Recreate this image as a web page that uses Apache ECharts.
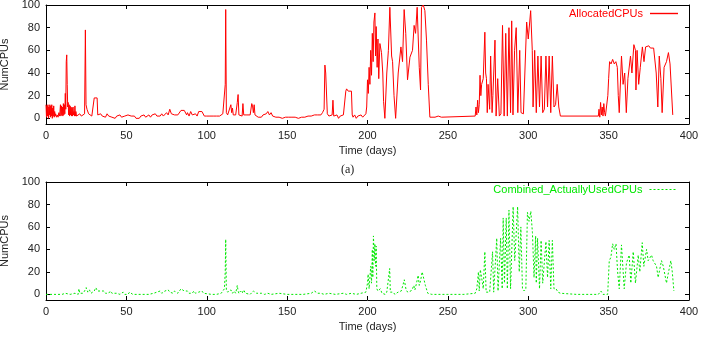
<!DOCTYPE html>
<html>
<head>
<meta charset="utf-8">
<script src="https://cdn.jsdelivr.net/npm/echarts@6/dist/echarts.min.js"></script>
<style>
  html, body { margin: 0; padding: 0; background: #fff; }
  #chart { width: 702px; height: 337px; }
</style>
</head>
<body>
<div id="chart"></div>
<script>
// tick labels
const xTicks = [0, 50, 100, 150, 200, 250, 300, 350, 400]
const yTicks = [0, 20, 40, 60, 80, 100]

// (a) AllocatedCPUs, [day, cpus]
const allocated = [
  [0,12],[0.3,1],[0.6,11],[0.9,2],[1.2,12],[1.5,0],[1.8,10],[2.1,3],[2.4,12],[2.7,1],[3,11],[3.3,2],[3.6,12],[3.9,0],
  [4.2,9],[4.5,2],[4.8,11],[5.1,1],[5.4,6],[5.7,2],[6,4],[6.5,1],[7,3],[7.5,1],[8,5],[8.5,2],[9,12],[9.3,2],[9.6,11],
  [9.9,3],[10.2,10],[10.5,2],[10.8,13],[11.1,3],[11.4,12],[11.7,4],[12,22],[12.3,8],[12.6,50],[12.9,56],[13.2,30],
  [13.5,10],[13.8,14],[14.1,3],[14.4,12],[14.7,2],[15,11],[15.3,3],[15.6,10],[15.9,2],[16.2,9],[16.5,2],[16.8,10],
  [17.1,3],[17.4,6],[17.7,2],[18,11],[18.3,2],[18.6,6],[19,2],[19.5,3],[20,2],[21,4],[22,2],[23,3],[24,4],[24.5,78],
  [24.9,12],[25.5,8],[26.5,4],[27.5,3],[28.5,2],[29.5,3],[30,18],[31,19],[31.8,18],[32.2,3],[33,2],[34,4],[35,2],
  [36,3],[37,1],[38,4],[39,2],[40,3],[41,1],[42,2],[43,0],[44,2],[45,1],[46,3],[47,1],[48,0],[49,2],[50,1],[51,3],
  [52,4],[53,2],[54,1],[55,2],[56,0],[57,1],[58,0],[59,2],[60,1],[61,3],[62,1],[63,2],[64,3],[65,1],[66,3],[67,2],
  [68,4],[69,2],[70,3],[71,2],[72,4],[73,2],[74,3],[75,5],[76,3],[77,8],[78,4],[79,5],[80,3],[81,4],[82,3],[83,4],
  [84,7],[85,8],[86,7],[87,8],[87.5,3],[88,5],[89,2],[90,6],[91,3],[92,2],[93,4],[94,2],[95,6],[96,7],[97,6],[98,6],
  [98.5,2],[99,3],[100,2],[101,3],[102,2],[103,3],[104,2],[105,3],[106,2],[107,3],[108,2],[109,3],[110,4],[111,3],
  [111.5,30],[111.8,96],[112.2,5],[113,3],[114,4],[115,12],[115.5,5],[116,9],[116.5,3],[117,4],[118,3],[119,14],
  [119.5,21],[120,3],[121,4],[122,2],[122.5,13],[123,3],[124,2],[125,3],[126,2],[127,3],[128,13],[128.5,11],[129,5],
  [129.5,12],[130,3],[131,2],[132,1],[133,2],[134,1],[135,3],[136,2],[137,4],[138,6],[139,3],[140,5],[141,2],[142,3],
  [143,1],[144,2],[145,1],[146,1],[147,0],[148,1],[149,1],[150,0],[151,1],[152,0],[153,1],[154,0],[155,1],[156,1],
  [157,0],[158,1],[159,1],[160,0],[161,1],[162,1],[163,2],[164,1],[165,2],[166,1],[167,3],[168,2],[169,3],[170,4],
  [171,3],[172,5],[173,8],[173.5,47],[174,40],[174.5,40],[175,4],[176,2],[177,1],[178,3],[178.5,16],[179,2],[180,1],
  [181,3],[182,0],[183,2],[184,1],[185,3],[186,2],[186.5,24],[187,26],[188,24],[189,25],[190,24],[190.5,3],[191,1],
  [192,3],[193,0],[194,2],[195,1],[196,3],[197,1],[198,2],[199,4],[199.5,10],[200,34],[200.5,22],[201,45],[201.5,30],
  [202,60],[202.5,38],[203,75],[203.5,50],[204,85],[204.6,93],[205,55],[205.4,81],[206,45],[206.5,70],[207,35],
  [207.7,66],[208.7,58],[209.5,40],[210,15],[210.8,0],[212,40],[213,60],[213.9,98],[215,55],[215.6,50],[216.5,20],
  [217.5,0],[219.1,40],[220.8,63],[221.8,50],[222.8,96],[223.8,75],[224.9,34],[226.4,54],[228,60],[229,82],
  [229.9,75],[230.9,98],[232.2,45],[233,25],[233.6,98],[234.7,100],[235.7,95],[236.7,69],[237.8,30],[238.8,1],
  [240,1],[242,1],[244,2],[246,1],[267,2],[267.5,10],[268,3],[268.5,16],[269,5],[269.5,12],[270,38],[270.5,20],
  [271,30],[272,35],[273,76],[273.5,40],[274,35],[274.5,5],[275,30],[276,8],[276.6,55],[277.5,5],[278,20],[279.3,69],
  [280,2],[281,35],[282,2],[283,4],[284,82],[285,2],[286,75],[287,2],[288,80],[289,5],[289.7,86],[290.5,3],
  [291.5,60],[292.5,80],[293.5,5],[294.7,60],[295.5,5],[297,4],[298,5],[299,85],[300,70],[301.5,95],[302.5,60],
  [303,10],[304,60],[305,5],[306,55],[307,10],[308,55],[309,5],[310,8],[311,55],[312,10],[313,55],[314,5],[315,55],
  [316,10],[317,12],[318,30],[319,10],[320,2],[343.6,2],[344,8],[344.5,1],[345,14],[345.5,3],[346,10],[346.5,2],
  [347,13],[347.5,5],[348,2],[349,1],[349.5,20],[350,35],[350.6,50],[351.5,48],[352.5,52],[353.5,48],[354.5,50],
  [355.4,45],[356,20],[356.6,5],[358,55],[359,30],[360,40],[361,5],[362,35],[363.6,55],[364.5,40],[365.7,65],
  [366.7,60],[367,25],[367.7,60],[368.7,30],[369.7,45],[371,63],[372,50],[373,63],[374,62],[375,64],[376,62],
  [377,63],[378,62],[379,63],[379.6,40],[380.6,10],[381.5,55],[382.5,35],[383.3,5],[384.5,45],[386,50],[387.2,58],
  [388.2,48],[389.9,3]
]

// (b) Combined_ActuallyUsedCPUs
const used = [
  [0,0],[5,0],[10,0],[12,1],[15,0],[18,1],[20,0],[20.5,5],[21,1],[22,2],[23,1],[24,3],[25,6],[26,2],[27,4],[28,1],
  [29,2],[30,3],[31,6],[32,3],[33,2],[34,3],[35,2],[36,3],[37,1],[38,2],[39,1],[40,3],[41,1],[42,0],[44,1],[46,0],
  [48,2],[49,0],[50,1],[51,0],[52,2],[53,1],[54,0],[56,0],[60,0],[64,0],[67,1],[68,0],[69,2],[70,1],[71,3],[72,1],
  [73,2],[74,3],[75,2],[76,4],[77,2],[78,3],[79,1],[80,3],[81,2],[82,1],[83,2],[84,5],[85,5],[86,3],[87,2],[88,3],
  [89,1],[90,2],[91,1],[92,3],[93,1],[94,2],[95,2],[96,3],[97,3],[98,1],[99,0],[103,0],[106,0],[109,1],[110,3],
  [111,5],[111.5,20],[111.8,49],[112.2,4],[113,2],[114,1],[115,4],[116,1],[117,3],[118,1],[119,8],[119.5,3],[120,1],
  [121,3],[122,1],[123,4],[124,1],[125,0],[127,0],[128,1],[129,3],[130,2],[131,1],[132,0],[134,1],[136,0],[138,1],
  [140,0],[145,1],[150,0],[155,0],[160,0],[165,1],[167,3],[168,3],[169,1],[170,2],[171,1],[172,2],[173,0],[176,1],
  [180,0],[185,1],[186,2],[187,0],[190,1],[193,0],[196,1],[199,2],[200,10],[200.4,18],[201,5],[202,25],[202.5,10],
  [203,40],[203.3,15],[203.7,52],[204.2,30],[204.6,45],[205,25],[205.4,43],[205.8,5],[206.5,3],[207,2],[208,5],
  [209,1],[210,2],[211,0],[212,2],[213,1],[213.8,23],[214.2,2],[215,1],[216,2],[217,0],[218,1],[219,2],[220,1],
  [221,3],[222,8],[222.9,13],[224,4],[225,2],[226,1],[227,3],[228,5],[228.8,8],[229.5,4],[230.5,10],[231.5,17],
  [232.2,8],[233,12],[234,20],[235,19],[236,8],[237.5,1],[240,0],[250,0],[260,0],[267,1],[268,5],[269,20],[269.5,3],
  [270.2,22],[271,15],[272,5],[273,38],[273.8,2],[275,3],[276,2],[277.8,38],[278.5,2],[279.5,3],[280.4,50],
  [281.2,3],[282.8,50],[283.8,5],[284.4,68],[285.2,10],[286.3,68],[287,5],[288,75],[289,5],[290.6,78],[291.6,30],
  [293.4,78],[294.4,20],[295.4,60],[296.4,5],[297.5,3],[298.5,5],[299.5,73],[300.5,65],[301.6,74],[302.6,55],
  [303.6,15],[304.6,52],[305,10],[305.8,50],[307,5],[308,48],[309,10],[311,47],[312,15],[313,48],[314,5],[315,48],
  [316,5],[317.3,5],[318.5,2],[320,1],[330,0],[343.6,0],[345.2,3],[346.5,0],[349.4,0],[350.4,30],[351.4,33],
  [352.5,45],[353.5,40],[354.6,45],[355.6,20],[356.6,5],[358,44],[359.7,5],[361.1,28],[362.8,35],[363.8,10],
  [365.3,38],[366.7,10],[368.4,35],[369.4,20],[370.9,46],[371.9,25],[373.6,40],[374.6,30],[376.7,35],[377.7,30],
  [379.8,25],[380.8,15],[382.9,30],[384,25],[386,10],[387,18],[388.7,30],[389.6,20],[390.6,3]
]

const font = "'Liberation Sans', Arial, sans-serif"
const ink = "#222"
const red = "#ff0000"
const green = "#00e800"

function xAxis(grid, top) {
  return {
    type: "value", gridIndex: grid, min: 0, max: 400, interval: 50,
    position: top ? "top" : "bottom",
    name: top ? "" : "Time (days)", nameLocation: "middle", nameGap: 21,
    nameTextStyle: { color: ink, fontSize: 11, fontFamily: font },
    axisLine: { onZero: false, lineStyle: { color: "#000", width: 1 } },
    axisTick: { inside: true, length: 4, lineStyle: { color: "#000" } },
    axisLabel: { show: !top, color: ink, fontSize: 11, fontFamily: font, margin: 6 },
    splitLine: { show: false }
  }
}

function yAxis(grid, right) {
  return {
    type: "value", gridIndex: grid, min: -5, max: 100,
    position: right ? "right" : "left",
    name: right ? "" : "NumCPUs", nameLocation: "middle", nameGap: 32,
    nameTextStyle: { color: ink, fontSize: 11, fontFamily: font },
    axisLine: { onZero: false, lineStyle: { color: "#000", width: 1 } },
    axisTick: { inside: true, length: 4, customValues: yTicks, lineStyle: { color: "#000" } },
    axisLabel: { show: !right, customValues: yTicks, color: ink, fontSize: 11, fontFamily: font, margin: 6 },
    splitLine: { show: false }
  }
}

const chart = echarts.init(document.getElementById("chart"))
chart.setOption({
  animation: false,
  backgroundColor: "#fff",
  grid: [
    { left: 46, right: 13, top: 5, height: 119, outerBoundsMode: "none", containLabel: false },
    { left: 46, right: 13, top: 182, height: 118, outerBoundsMode: "none", containLabel: false }
  ],
  xAxis: [xAxis(0, false), xAxis(0, true), xAxis(1, false), xAxis(1, true)],
  yAxis: [yAxis(0, false), yAxis(0, true), yAxis(1, false), yAxis(1, true)],
  legend: [
    {
      data: [{ name: "AllocatedCPUs", icon: "rect", itemStyle: { color: red, borderColor: red, borderWidth: 0 } }],
      top: 8, right: 24, align: "right", padding: 0,
      itemWidth: 28, itemHeight: 1.4,
      itemStyle: { color: red, borderWidth: 0 },
      textStyle: { color: red, fontSize: 11, fontFamily: font, padding: [0, 2, 0, 0] }
    },
    {
      data: ["Combined_ActuallyUsedCPUs"], top: 184, right: 24, align: "right", padding: 0,
      itemWidth: 28, itemHeight: 10,
      itemStyle: { color: "transparent", borderWidth: 0 },
      lineStyle: { width: 1, color: green, type: [2, 2] },
      textStyle: { color: green, fontSize: 11, fontFamily: font, padding: [0, 2, 0, 0] }
    }
  ],
  graphic: [
    {
      type: "text", left: 341, top: 164,
      style: { text: "(a)", fill: ink, font: "12px 'Liberation Serif', serif" }
    }
  ],
  series: [
    {
      name: "AllocatedCPUs", type: "line", xAxisIndex: 0, yAxisIndex: 0,
      data: allocated, symbol: "none", color: red,
      lineStyle: { width: 1, color: red }
    },
    {
      name: "Combined_ActuallyUsedCPUs", type: "line", xAxisIndex: 2, yAxisIndex: 2,
      data: used, symbol: "none", color: green,
      lineStyle: { width: 1, color: green, type: [2, 2] }
    }
  ]
})
</script>
</body>
</html>
